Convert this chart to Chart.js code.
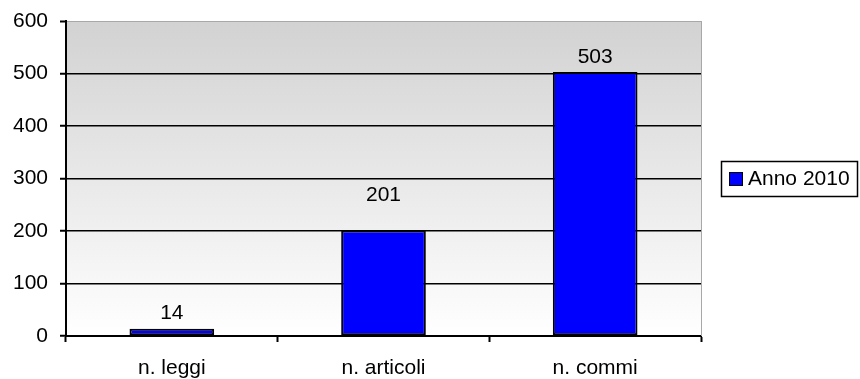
<!DOCTYPE html>
<html>
<head>
<meta charset="utf-8">
<script src="https://cdn.jsdelivr.net/npm/chart.js@4/dist/chart.umd.min.js"></script>
<style>
  html, body { margin: 0; padding: 0; background: #ffffff; }
  #wrap { width: 860px; height: 379px; }
</style>
</head>
<body>
<div id="wrap"><canvas id="c" width="860" height="379"></canvas></div>
<script>
// Categories and values
const categories = ['n. leggi', 'n. articoli', 'n. commi'];
const seriesLabel = 'Anno 2010';
const values = [14, 201, 503];
const yTicks = [0, 100, 200, 300, 400, 500, 600];

const FONT = 'Liberation Sans, Arial, sans-serif';
const FONT_SIZE = 21;

// Plot background: grey fading to white
const plotBackground = {
  id: 'plotBackground',
  beforeDraw(chart) {
    const { ctx, chartArea: a } = chart;
    const g = ctx.createLinearGradient(0, a.top, 0, a.bottom);
    g.addColorStop(0, '#d2d2d2');
    g.addColorStop(1, '#ffffff');
    ctx.save();
    ctx.fillStyle = g;
    ctx.fillRect(a.left, a.top, a.right - a.left, a.bottom - a.top);
    ctx.restore();
  },
  afterDraw(chart) {
    const { ctx, chartArea: a } = chart;
    // thin grey frame on the right side of the plot
    ctx.save();
    ctx.strokeStyle = '#a8a8a8';
    ctx.lineWidth = 1;
    ctx.beginPath();
    ctx.moveTo(a.right + 0.5, a.top);
    ctx.lineTo(a.right + 0.5, a.bottom);
    ctx.stroke();
    ctx.restore();
  }
};

// Value labels above each bar
const valueLabels = {
  id: 'valueLabels',
  afterDatasetsDraw(chart) {
    const { ctx } = chart;
    const meta = chart.getDatasetMeta(0);
    const lift = [0, 20, 0]; // the middle label sits clear of the grid line
    ctx.save();
    ctx.font = FONT_SIZE + 'px ' + FONT;
    ctx.fillStyle = '#000000';
    ctx.textAlign = 'center';
    ctx.textBaseline = 'middle';
    meta.data.forEach((bar, i) => {
      const v = chart.data.datasets[0].data[i];
      ctx.fillText(String(v), bar.x, bar.y - 15 - lift[i]);
    });
    ctx.restore();
  }
};

// Boxed legend to the right of the plot
const boxLegend = {
  id: 'boxLegend',
  afterDraw(chart) {
    const { ctx } = chart;
    const ds = chart.data.datasets[0];
    const x = 721, y = 161, w = 136, h = 35;
    ctx.save();
    ctx.fillStyle = '#ffffff';
    ctx.fillRect(x, y, w, h);
    ctx.strokeStyle = '#000000';
    ctx.lineWidth = 1.5;
    ctx.strokeRect(x + 0.5, y + 0.5, w, h);
    ctx.fillStyle = ds.backgroundColor;
    ctx.fillRect(x + 8, y + 11, 13, 13);
    ctx.lineWidth = 1;
    ctx.strokeRect(x + 8.5, y + 11.5, 13, 13);
    ctx.fillStyle = '#000000';
    ctx.font = FONT_SIZE + 'px ' + FONT;
    ctx.textAlign = 'left';
    ctx.textBaseline = 'middle';
    ctx.fillText(ds.label, x + 27, y + 18.5);
    ctx.restore();
  }
};

new Chart(document.getElementById('c'), {
  type: 'bar',
  data: {
    labels: categories,
    datasets: [{
      label: seriesLabel,
      data: values,
      backgroundColor: '#0000ff',
      borderColor: '#000000',
      borderWidth: 2,
      borderSkipped: false,
      barPercentage: 0.4,
      categoryPercentage: 1.0
    }]
  },
  options: {
    responsive: false,
    animation: false,
    devicePixelRatio: 1,
    layout: { padding: { top: 21, right: 159, left: 0, bottom: 0 } },
    plugins: {
      legend: { display: false },
      tooltip: { enabled: false }
    },
    scales: {
      x: {
        afterFit(scale) {
          scale.height = 43;
          scale.paddingLeft = 0;
          scale.paddingRight = 0;
        },
        offset: true,
        grid: {
          offset: true,
          drawOnChartArea: false,
          drawTicks: true,
          tickLength: 6,
          tickColor: '#000000',
          tickWidth: 2
        },
        border: { display: true, color: '#000000', width: 2 },
        ticks: {
          color: '#000000',
          font: { family: FONT, size: FONT_SIZE },
          padding: 14,
          maxRotation: 0
        }
      },
      y: {
        min: 0,
        max: 600,
        afterFit(scale) {
          scale.width = 66;
          scale.paddingTop = 0;
          scale.paddingBottom = 0;
        },
        afterBuildTicks(scale) { scale.ticks = yTicks.map(v => ({ value: v })); },
        grid: {
          color: ctx => (ctx.tick && ctx.tick.value === 600) ? '#a8a8a8' : '#000000',
          lineWidth: ctx => (ctx.tick && ctx.tick.value === 600) ? 1 : 1.5,
          tickColor: '#000000',
          tickLength: 6,
          tickWidth: 2
        },
        border: { display: true, color: '#000000', width: 2 },
        ticks: {
          color: '#000000',
          font: { family: FONT, size: FONT_SIZE },
          padding: 12,
          callback: v => String(v)
        }
      }
    }
  },
  plugins: [plotBackground, valueLabels, boxLegend]
});
</script>
</body>
</html>
